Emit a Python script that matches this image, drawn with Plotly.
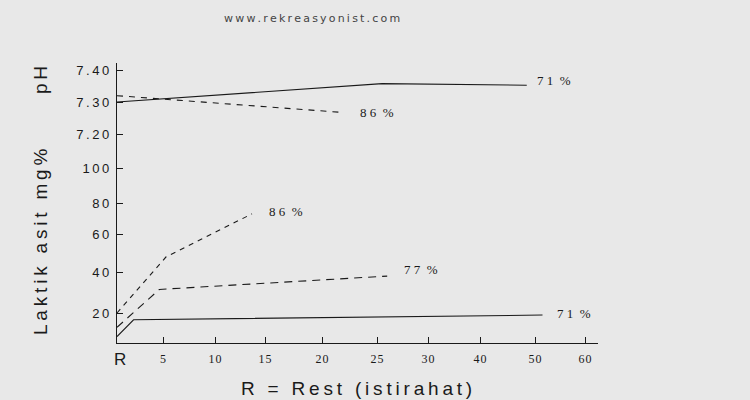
import numpy as np
import plotly.graph_objects as go

# ---------------- data ----------------
# x: time in minutes (0 = R, rest)
X_TICK_MIN = [0, 5, 10, 15, 20, 25, 30, 40, 50, 60]
X_TICK_LABELS = ["R", "5", "10", "15", "20", "25", "30", "40", "50", "60"]

PH_TICKS = [7.20, 7.30, 7.40]
PH_TICK_LABELS = ["7.20", "7.30", "7.40"]
LAC_TICKS = [20, 40, 60, 80, 100]
LAC_TICK_LABELS = ["20", "40", "60", "80", "100"]

# pH series
ph71_t = [0, 25.5, 48.5]
ph71_v = [7.30, 7.358, 7.353]
ph86_t = [0, 22]
ph86_v = [7.32, 7.267]

# lactic acid (mg%) series
lac86_t = [0, 5.3, 13.7]
lac86_v = [20, 48, 73]
lac77_t = [0, 4.6, 26]
lac77_v = [13, 31.5, 38]
lac71_t = [0, 1.8, 51.5]
lac71_v = [8.5, 16.7, 19]

# ---------------- hand-drawn (non-uniform) scales ----------------
X_SCALE_VAL = [0, 5, 10, 15, 20, 25, 30, 40, 50, 60]
X_SCALE_U = [0, 46, 98, 148, 205, 260, 311, 363, 418, 468]
LAC_SCALE_VAL = [0, 20, 40, 60, 80, 100]
LAC_SCALE_U = [-11, 30, 71, 109, 140, 175]
PH_SCALE_VAL = [7.20, 7.30, 7.40]
PH_SCALE_U = [209, 241, 272.6]


def sx(t):
    return np.interp(t, X_SCALE_VAL, X_SCALE_U)


def sy_lac(v):
    return np.interp(v, LAC_SCALE_VAL, LAC_SCALE_U)


def sy_ph(v):
    return np.interp(v, PH_SCALE_VAL, PH_SCALE_U)


def spaced(s, sep="\u2009"):
    return sep.join(s)


INK = "#1a1a1a"
BG = "#e8e8e8"
W, H = 750, 400
ML, MR, MT, MB = 117, 152, 63, 57
PW, PH_ = W - ML - MR, H - MT - MB

fig = go.Figure()

series = [
    (ph71_t, ph71_v, sy_ph, "solid", "7 1\u00a0\u00a0%", 8, 5),
    (ph86_t, ph86_v, sy_ph, "6px,6px", "8 6\u00a0\u00a0%", 14, 0),
    (lac86_t, lac86_v, sy_lac, "5px,5px", "8 6\u00a0\u00a0%", 15, 2),
    (lac77_t, lac77_v, sy_lac, "8px,6px", "7 7\u00a0\u00a0%", 15, 7),
    (lac71_t, lac71_v, sy_lac, "solid", "7 1\u00a0\u00a0%", 12, 2),
]

annotations = []
for t, v, fy, dash, lab, dx, dy in series:
    xs = sx(t)
    ys = fy(v)
    fig.add_trace(go.Scatter(
        x=xs, y=ys, mode="lines",
        line=dict(color=INK, width=1.1, dash=dash),
        hoverinfo="skip", showlegend=False,
    ))
    annotations.append(dict(
        x=xs[-1], y=ys[-1], xref="x", yref="y", text=lab, showarrow=False,
        xanchor="left", yanchor="middle", xshift=dx, yshift=dy,
        font=dict(family="Liberation Serif", size=13, color=INK),
    ))

# y tick values/labels for both sections
y_tickvals = list(sy_ph(PH_TICKS)) + list(sy_lac(LAC_TICKS))
y_ticktext = [spaced(s) for s in PH_TICK_LABELS] + [spaced(s) for s in LAC_TICK_LABELS]

x_tickvals = list(sx(X_TICK_MIN))
x_ticktext = [""] + [spaced(s, "\u200a") for s in X_TICK_LABELS[1:]]


def px_x(p):
    return (p - ML) / PW


def px_y(p):
    return (H - MB - p) / PH_


# "R" label at the origin
annotations.append(dict(
    x=sx(0), y=0, xref="x", yref="paper", text=X_TICK_LABELS[0], showarrow=False,
    xanchor="center", yanchor="top", xshift=3, yshift=-5,
    font=dict(family="Liberation Sans", size=17, color=INK),
))
# title / site
annotations.append(dict(
    x=px_x(312), y=px_y(19), xref="paper", yref="paper",
    text=spaced("www.rekreasyonist.com"), showarrow=False,
    xanchor="center", yanchor="middle",
    font=dict(family="DejaVu Sans", size=11, color="#444444"),
))
# axis titles
annotations.append(dict(
    x=px_x(40), y=px_y(80), xref="paper", yref="paper",
    text=spaced("pH"), showarrow=False, textangle=-90,
    xanchor="center", yanchor="middle",
    font=dict(family="Liberation Sans", size=19, color=INK),
))
annotations.append(dict(
    x=px_x(40), y=px_y(242), xref="paper", yref="paper",
    text=spaced("Laktik asit mg%"), showarrow=False, textangle=-90,
    xanchor="center", yanchor="middle",
    font=dict(family="Liberation Sans", size=19, color=INK),
))
annotations.append(dict(
    x=px_x(356), y=px_y(388), xref="paper", yref="paper",
    text=spaced("R = Rest (istirahat)"), showarrow=False,
    xanchor="center", yanchor="middle",
    font=dict(family="Liberation Sans", size=19, color=INK),
))

fig.update_layout(
    width=W, height=H,
    margin=dict(l=ML, r=MR, t=MT, b=MB),
    paper_bgcolor=BG, plot_bgcolor=BG,
    annotations=annotations,
    xaxis=dict(
        range=[0, PW], showgrid=False, zeroline=False,
        showline=True, linecolor=INK, linewidth=1.2,
        ticks="inside", ticklen=6, tickcolor=INK, tickwidth=1,
        tickvals=x_tickvals, ticktext=x_ticktext,
        tickfont=dict(family="Liberation Serif", size=12, color=INK),
        ticklabelstandoff=4,
    ),
    yaxis=dict(
        range=[0, PH_], showgrid=False, zeroline=False,
        showline=True, linecolor=INK, linewidth=1.2,
        ticks="inside", ticklen=6, tickcolor=INK, tickwidth=1,
        tickvals=y_tickvals, ticktext=y_ticktext,
        tickfont=dict(family="Liberation Sans", size=13, color=INK),
        ticklabelstandoff=4,
    ),
)

fig.write_html("out.html")
